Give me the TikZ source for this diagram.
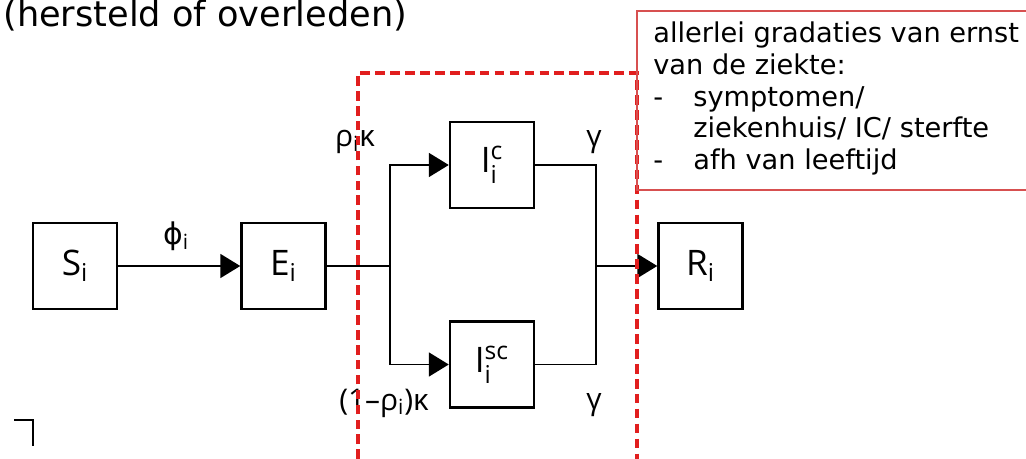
\documentclass[tikz,border=0pt]{standalone}
\usepackage{amsmath}
\usepackage{fontspec}
\setmainfont{DejaVu Sans}
\newfontfamily\labelfont{Open Sans}
\usepackage{xcolor}
\usetikzlibrary{positioning,arrows.meta,calc}
\definecolor{boxred}{RGB}{225,30,30}
\definecolor{notered}{RGB}{215,80,80}

\tikzset{
  compartment/.style={draw, line width=1.4pt, minimum width=1.68cm, minimum height=1.72cm,
    font=\labelfont\fontsize{20}{22}\selectfont},
  flow/.style={line width=1.1pt, -{Triangle[length=0.4cm, width=0.48cm]}},
  wire/.style={line width=1.1pt},
  rate/.style={font=\labelfont\fontsize{17}{20}\selectfont}
}

\begin{document}
\begin{tikzpicture}[scale=1.0, font=\small]
\useasboundingbox (0,0) rectangle (20.52,9.18);
% title, top edge of the slide
\node[anchor=base west, inner sep=0pt, font=\fontsize{20}{23}\selectfont] (title) at (0.06,8.64)
  {(hersteld of overleden)};
% compartments
\node[compartment] (S) at (1.5,3.86) {S\textsubscript{i}};
\node[compartment] (E) at (5.67,3.86) {E\textsubscript{i}};
\node[compartment] (Ic) at (9.84,5.88) {I$^{\text{c}}_{\text{i}}$};
\node[compartment] (Isc) at (9.84,1.89) {I$^{\text{sc}}_{\text{i}}$};
\node[compartment] (R) at (14.01,3.86) {R\textsubscript{i}};
\coordinate (split) at (7.8,3.86);
\coordinate (join) at (11.92,3.86);
% flows
\draw[flow] (S) -- (E);
\draw[wire] (E) -- (split);
\draw[flow] (split) |- (Ic);
\draw[flow] (split) |- (Isc);
\draw[wire] (Ic) -| (join);
\draw[wire] (Isc) -| (join);
\draw[flow] (join) -- (R);
% rates
\node[rate] (phi) at (3.52,4.46) {{\normalfont ϕ}\textsubscript{i}};
\node[rate] (rhok) at (7.1,6.34) {ρ\textsubscript{i}κ};
\node[rate] (gtop) at (11.88,6.34) {γ};
\node[rate] (rhok2) at (7.68,1.12) {(1–ρ\textsubscript{i})κ};
\node[rate] (gbot) at (11.88,1.08) {γ};
% red dashed frame round the infectious stages
\draw[boxred, line width=2.2pt, dash pattern=on 5.5pt off 3pt]
  (7.16,-0.3) -- (7.16,7.72) -- (12.74,7.72) -- (12.74,-0.3);
% note box
\draw[notered, line width=0.7pt] (12.74,8.96) rectangle (20.7,5.38);
\node[anchor=north west, align=left, inner sep=0pt, font=\fontsize{15.5}{18.2}\selectfont] (note)
  at (13.06,8.76)
  {allerlei gradaties van ernst\\
   van de ziekte:\\
   \makebox[0.8cm][l]{-}symptomen/\\
   \makebox[0.8cm][l]{}ziekenhuis/ IC/ sterfte\\
   \makebox[0.8cm][l]{-}afh van leeftijd};
% corner mark
\draw[line width=1.3pt] (0.28,0.78) -- (0.66,0.78) -- (0.66,0.26);
\end{tikzpicture}
\end{document}
